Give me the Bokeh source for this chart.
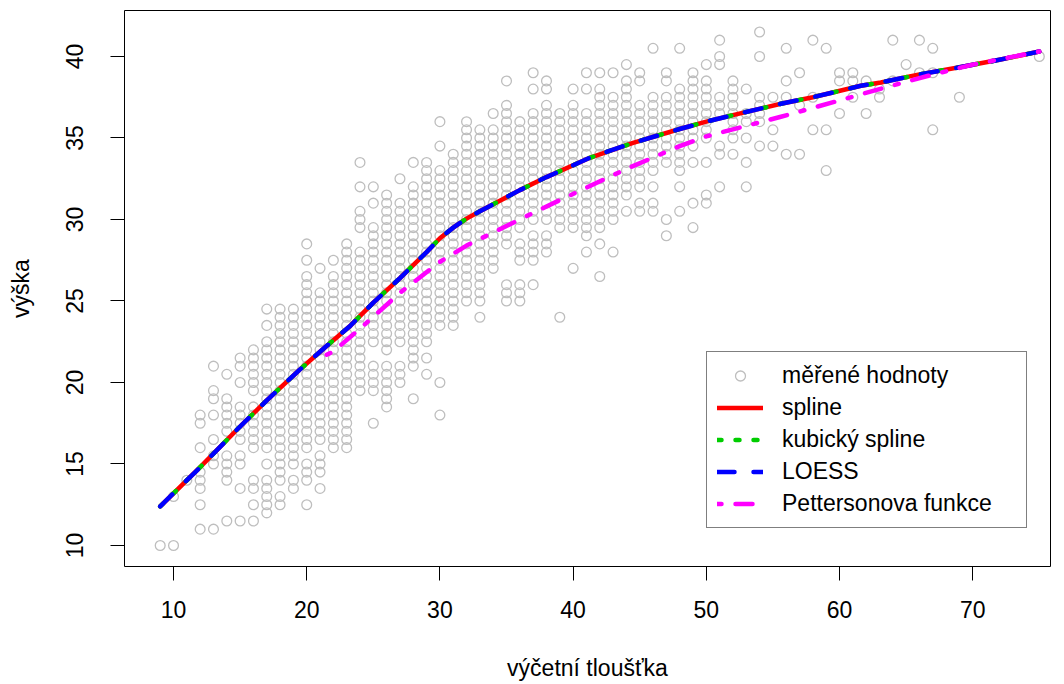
from bokeh.plotting import figure
from bokeh.models import Range1d, Legend, LegendItem, FixedTicker, ColumnDataSource
from bokeh.embed import file_html
from bokeh.resources import INLINE

# measured trees: diameter class (cm) and the heights (m) read for that class;
# "a-b" = a stack of measured heights on every 0.5 m step from a to b
diameters = [9, 10, 11, 12, 13, 14, 15, 16, 17, 18, 19, 20, 21, 22, 23, 24, 25, 26, 27, 28,
             29, 30, 31, 32, 33, 34, 35, 36, 37, 38, 39, 40, 41, 42, 43, 44, 45, 46, 47, 48,
             49, 50, 51, 52, 53, 54, 55, 56, 57, 58, 59, 60, 61, 62, 63, 64, 65, 66, 67, 69, 75]
heights = [
    "10", "10 13", "14", "11 12.5 13.5-14.5 16 17.5-18", "11 15-15.5 16.5 18 19-19.5 21",
    "11.5 14-15.5 17-19 20.5", "11.5 13.5 15-15.5 16.5-18.5 20 21-21.5",
    "11.5 12.5 13.5-14 16-18.5 19.5-22", "12-14 15 16-22.5 23.5 24.5",
    "12.5-13 14-24.5", "13.5-14 15-24.5", "12.5 14-15 16-26.5 27.5 28.5",
    "13.5 14.5-15.5 16.5-25.5 27", "16-26.5 27.5", "16-28.5",
    "19.5-28 29.5-30.5 32 33.5", "17.5 19.5-21 22.5-29.5 31 32", "18.5-21 22-31.5",
    "20-21 22.5-31 32.5", "19 21-32 33.5", "20.5 21.5 22.5-33 33.5",
    "18 20 23.5-33 34.5 36", "23.5-34", "25-35.5 36", "24 25-35.5",
    "27-35.5 36.5", "25-26 28.5-36.5 37 38.5", "25-26 27.5-28.5 29.5-36",
    "26 27.5-29 30-36.5 38 39", "28-29 30-37 38-38.5", "24 29.5-36.5",
    "27 29.5-37 38", "28 29-36.5 38 39", "26.5 28.5 29.5-37.5 38 39", "28 30-37.5 39",
    "30.5 31.5-38.5 39.5", "30.5-31 32-37 38.5-39", "30.5-31 32 33-37.5 40.5",
    "29 30 33.5 34-37.5 38.5-39", "30.5 32 33-38 40.5", "29.5 31 33.5 34.5-39",
    "31-31.5 33.5 35-38.5 39.5", "32 34-34.5 36.5-37.5 39.5-40 41", "34 35-38.5",
    "32 33.5 35 36-36.5 38", "34.5 36-37.5 40 41.5", "34.5 35.5 37.5",
    "34 37.5 38.5 40.5", "34 37 39", "35.5 37.5 41", "33 35.5 40.5", "36.5 38.5-39",
    "37.5 38.5-39", "36.5 38.5", "37.5 38", "38.5 41", "39.5", "39 41", "35.5 39 40.5",
    "37.5", "40",
]

# fitted curves (x = diameter, y = height)
curve_x = [9, 10, 12, 15, 17, 19.5, 21.3, 23.3, 25, 27, 29, 30, 31, 32, 33, 34.5, 36, 38,
           41.3, 44.5, 48, 50, 52, 55.6, 58, 61.6, 63.1, 66, 69.1, 72, 75]
spline_y = [12.4, 13.2, 14.8, 17.3, 18.9, 20.8, 22.1, 23.5, 24.9, 26.4, 28.0, 28.85, 29.5,
            30.05, 30.5, 31.15, 31.8, 32.6, 33.8, 34.7, 35.55, 36.0, 36.4, 37.1, 37.5, 38.2,
            38.4, 38.9, 39.35, 39.8, 40.3]
cubic_y = list(spline_y)
loess_y = list(spline_y)
pett_x = [21.5, 22, 24, 27, 30, 32, 34.5, 38, 41, 44, 48, 50, 55.6, 60, 63, 66.6, 70, 75]
pett_y = [21.7, 21.9, 23.3, 25.5, 27.4, 28.4, 29.4, 30.8, 31.95, 33.1, 34.5, 35.1, 36.3,
          37.3, 38.0, 38.8, 39.5, 40.3]

x_ticks = [10, 20, 30, 40, 50, 60, 70]
y_ticks = [10, 15, 20, 25, 30, 35, 40]
legend_labels = ["měřené hodnoty", "spline", "kubický spline", "LOESS", "Pettersonova funkce"]


def expand(spec):
    out = []
    for tok in spec.split():
        if "-" in tok:
            a, b = (float(t) for t in tok.split("-"))
            n = int(round((b - a) * 2))
            out.extend(a + 0.5 * k for k in range(n + 1))
        else:
            out.append(float(tok))
    return out


px, py = [], []
for d, spec in zip(diameters, heights):
    for h in expand(spec):
        px.append(d)
        py.append(h)

FONT = "Liberation Sans"
FS = "23px"

p = figure(width=1064, height=684, output_backend="svg", toolbar_location=None,
           x_range=Range1d(6.32, 75.84), y_range=Range1d(8.71, 42.82),
           min_border_left=124, min_border_right=14, min_border_top=10, min_border_bottom=118)
p.grid.visible = False
p.outline_line_color = "black"
p.outline_line_width = 1
p.background_fill_color = "white"
p.border_fill_color = "white"

p.xaxis.ticker = FixedTicker(ticks=x_ticks)
p.yaxis.ticker = FixedTicker(ticks=y_ticks)
for ax in (p.xaxis[0], p.yaxis[0]):
    ax.axis_line_color = None
    ax.minor_tick_line_color = None
    ax.major_tick_in = 0
    ax.major_tick_out = 14
    ax.major_tick_line_color = "black"
    ax.major_tick_line_width = 1
    ax.major_label_text_font = FONT
    ax.major_label_text_font_size = FS
    ax.major_label_text_color = "black"
    ax.axis_label_text_font = FONT
    ax.axis_label_text_font_size = FS
    ax.axis_label_text_font_style = "normal"
    ax.axis_label_text_color = "black"
p.xaxis.axis_label = "výčetní tloušťka"
p.yaxis.axis_label = "výška"
p.xaxis.major_label_standoff = 20
p.xaxis.axis_label_standoff = 34
p.yaxis.major_label_orientation = "vertical"
p.yaxis.major_label_standoff = 27
p.yaxis.axis_label_standoff = 30

src = ColumnDataSource(dict(x=px, y=py))
r_pts = p.scatter("x", "y", source=src, marker="circle", size=9.8, fill_color=None,
                  line_color="#bebebe", line_width=1.3)
LW = 4.5
r_spl = p.line(curve_x, spline_y, line_color="#ff0000", line_width=LW, line_cap="round",
               line_join="round")
r_cub = p.line(curve_x, cubic_y, line_color="#00cd00", line_width=LW, line_cap="round",
               line_join="round", line_dash="4 14")
r_loe = p.line(curve_x, loess_y, line_color="#0000ff", line_width=LW, line_cap="round",
               line_join="round", line_dash="17 19")
r_pet = p.line(pett_x, pett_y, line_color="#ff00ff", line_width=LW, line_cap="round",
               line_join="round", line_dash="4 14 17 14")

items = [LegendItem(label=lab, renderers=[r])
         for lab, r in zip(legend_labels, [r_pts, r_spl, r_cub, r_loe, r_pet])]
legend = Legend(items=items, location=(582, 38))
legend.border_line_color = "black"
legend.border_line_width = 1
legend.background_fill_color = "white"
legend.background_fill_alpha = 1
legend.label_text_font = FONT
legend.label_text_font_size = FS
legend.label_text_color = "black"
legend.glyph_width = 46
legend.glyph_height = 25
legend.label_height = 25
legend.label_width = 234
legend.label_standoff = 19
legend.spacing = 5
legend.padding = 10
legend.margin = 0
p.add_layout(legend, "center")

open("out.html", "w").write(file_html(p, INLINE))
